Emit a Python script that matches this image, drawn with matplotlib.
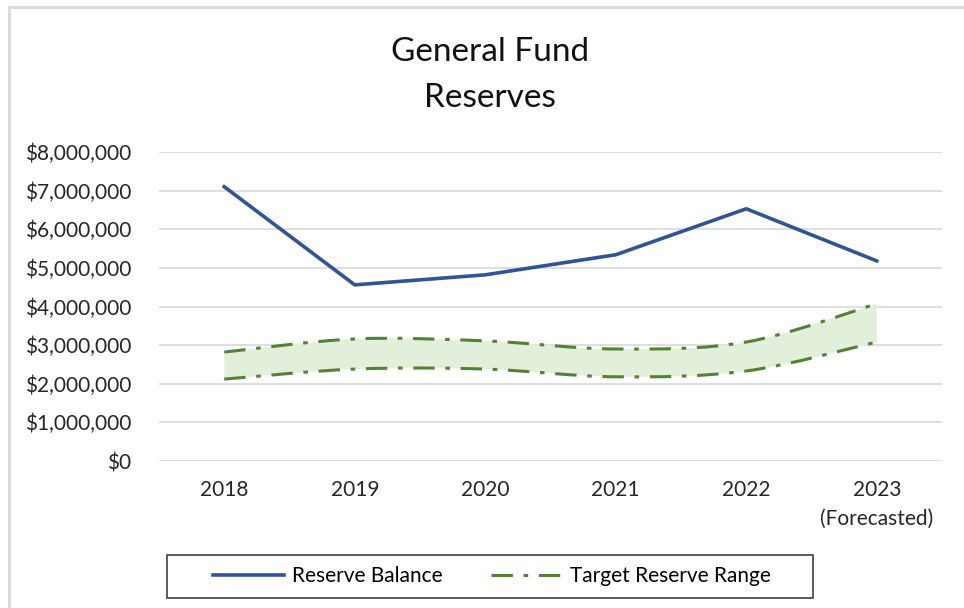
import matplotlib
matplotlib.use("Agg")
import matplotlib.pyplot as plt
from matplotlib.path import Path
from matplotlib.patches import PathPatch, Rectangle
from matplotlib.lines import Line2D
from matplotlib.ticker import FuncFormatter, MultipleLocator

years = ["2018", "2019", "2020", "2021", "2022", "2023\n(Forecasted)"]
reserve_balance = [7100000, 4560000, 4820000, 5340000, 6530000, 5180000]
target_high = [2820000, 3160000, 3110000, 2900000, 3080000, 4070000]
target_low = [2120000, 2380000, 2380000, 2180000, 2330000, 3080000]

BLUE = "#2f5597"
GREEN = "#548235"
FILL = "#e2efda"
GRID = "#d9d9d9"

plt.rcParams["font.family"] = ["Lato", "DejaVu Sans"]


def smooth_verts(xs, ys):
    # Catmull-Rom style smoothing like Excel's "smoothed line"
    pts = list(zip(xs, ys))
    ext = [pts[0]] + pts + [pts[-1]]
    verts = [pts[0]]
    codes = [Path.MOVETO]
    for i in range(1, len(ext) - 2):
        p0, p1, p2, p3 = ext[i - 1], ext[i], ext[i + 1], ext[i + 2]
        c1 = (p1[0] + (p2[0] - p0[0]) / 6, p1[1] + (p2[1] - p0[1]) / 6)
        c2 = (p2[0] - (p3[0] - p1[0]) / 6, p2[1] - (p3[1] - p1[1]) / 6)
        verts += [c1, c2, p2]
        codes += [Path.CURVE4] * 3
    return verts, codes


fig = plt.figure(figsize=(9.64, 6.08), dpi=100)
ax = fig.add_axes([159 / 964, 1 - 461 / 608, (942 - 159) / 964, (461 - 152) / 608])

x = list(range(len(years)))

# band fill
up_v, up_c = smooth_verts(x, target_high)
lo_v, lo_c = smooth_verts(x, target_low)
band_v = up_v + [lo_v[-1]] + lo_v[-2::-1] + [up_v[0]]
band_c = up_c + [Path.LINETO] + [Path.CURVE4] * (len(lo_v) - 1) + [Path.CLOSEPOLY]
ax.add_patch(PathPatch(Path(band_v, band_c), facecolor=FILL, edgecolor="none", zorder=2))

dash = (0, (7, 3.5, 1.5, 3.5))
for v, c in ((up_v, up_c), (lo_v, lo_c)):
    ax.add_patch(PathPatch(Path(v, c), facecolor="none", edgecolor=GREEN,
                           linewidth=2.2, linestyle=dash, zorder=3))

ax.plot(x, reserve_balance, color=BLUE, linewidth=2.6, zorder=4)

ax.set_xlim(-0.5, len(years) - 0.5)
ax.set_ylim(0, 8000000)
ax.yaxis.set_major_locator(MultipleLocator(1000000))
ax.yaxis.set_major_formatter(FuncFormatter(lambda v, p: "${:,.0f}".format(v)))
ax.set_xticks(x)
ax.set_xticklabels(years)
ax.grid(axis="y", color=GRID, linewidth=1.2, zorder=0)
ax.set_axisbelow(True)
for s in ax.spines.values():
    s.set_visible(False)
ax.tick_params(length=0, labelsize=15, labelcolor="#262626")
ax.tick_params(axis="y", pad=20)
ax.tick_params(axis="x", pad=14)
for lbl in ax.get_xticklabels():
    lbl.set_verticalalignment("top")
    lbl.set_linespacing(1.5)

fig.text(0.508, 1 - 52 / 608, "General Fund", ha="center", va="center", fontsize=24, color="#111111")
fig.text(0.508, 1 - 98 / 608, "Reserves", ha="center", va="center", fontsize=24, color="#111111")

handles = [
    Line2D([], [], color=BLUE, linewidth=2.6),
    Line2D([], [], color=GREEN, linewidth=2.2, linestyle=dash),
]
leg = fig.legend(handles, ["Reserve Balance", "Target Reserve Range"],
                 loc="center", bbox_to_anchor=(492 / 964, 1 - 576 / 608),
                 ncol=2, fontsize=15, frameon=False,
                 handlelength=3.4, columnspacing=2.3, borderaxespad=0,
                 handletextpad=0.4)

# legend box
fig.add_artist(Rectangle((167 / 964, 1 - 598 / 608), (813 - 167) / 964, (598 - 555) / 608,
                         transform=fig.transFigure, fill=False,
                         edgecolor="#404040", linewidth=1.2))

# outer chart border
fig.add_artist(Rectangle((9 / 964, -0.01), 1.0, 1 - 7 / 608 + 0.01,
                         transform=fig.transFigure, fill=False,
                         edgecolor="#d9d9d9", linewidth=2))

fig.savefig("out.png", dpi=100)
